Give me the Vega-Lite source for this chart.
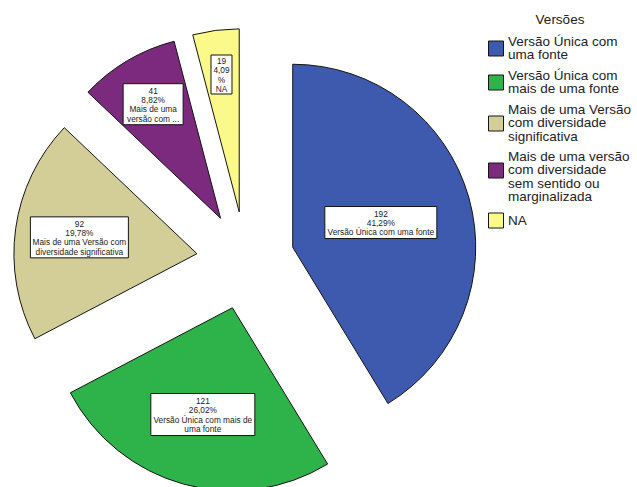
{
  "$schema": "https://vega.github.io/schema/vega-lite/v6.json",
  "width": 637,
  "height": 487,
  "autosize": {"type": "none"},
  "padding": 0,
  "background": "white",
  "config": {"view": {"stroke": null}, "font": "Liberation Sans"},
  "data": {
    "values": [
      {"versao": "Versão Única com uma fonte", "n": 192, "rotulo": "192\n41,29%\nVersão Única com uma fonte"},
      {"versao": "Versão Única com mais de uma fonte", "n": 121, "rotulo": "121\n26,02%\nVersão Única com mais de\numa fonte"},
      {"versao": "Mais de uma Versão com diversidade significativa", "n": 92, "rotulo": "92\n19,78%\nMais de uma Versão com\ndiversidade significativa"},
      {"versao": "Mais de uma versão com diversidade sem sentido ou marginalizada", "n": 41, "rotulo": "41\n8,82%\nMais de uma\nversão com  ..."},
      {"versao": "NA", "n": 19, "rotulo": "19\n4,09\n%\nNA"}
    ]
  },
  "transform": [
    {"window": [{"op": "row_number", "as": "ordem"}]},
    {"window": [{"op": "sum", "field": "n", "as": "acum"}], "sort": [{"field": "ordem"}], "frame": [null, 0]},
    {"joinaggregate": [{"op": "sum", "field": "n", "as": "total"}]},
    {"calculate": "(datum.acum - datum.n) / datum.total", "as": "t0"},
    {"calculate": "datum.acum / datum.total", "as": "t1"},
    {"calculate": "PI * (datum.t0 + datum.t1)", "as": "meio"},
    {"calculate": "0.268 * sin(datum.meio)", "as": "cx"},
    {"calculate": "0.268 * cos(datum.meio)", "as": "cy"},
    {"calculate": "0.785 - 0.69 * (datum.t1 - datum.t0)", "as": "rl"},
    {"calculate": "datum.cx + datum.rl * sin(datum.meio)", "as": "lx"},
    {"calculate": "datum.cy + datum.rl * cos(datum.meio)", "as": "ly"},
    {"calculate": "datum.ly + (length(split(datum.rotulo, '\\n')) - 1) * 0.5 * 0.0508 - 0.008", "as": "ty"}
  ],
  "layer": [
    {
      "mark": {"type": "arc", "radius": 183, "stroke": "#141414", "strokeWidth": 1},
      "encoding": {
        "theta": {"field": "t0", "type": "quantitative", "scale": {"domain": [0, 1]}, "stack": null},
        "theta2": {"field": "t1"},
        "x": {"field": "cx", "type": "quantitative", "scale": {"domain": [-1.3415, 2.1393], "nice": false, "zero": false}, "axis": null},
        "y": {"field": "cy", "type": "quantitative", "scale": {"domain": [-1.2377, 1.4235], "nice": false, "zero": false}, "axis": null},
        "color": {
          "field": "versao",
          "type": "nominal",
          "scale": {
            "domain": ["Versão Única com uma fonte", "Versão Única com mais de uma fonte", "Mais de uma Versão com diversidade significativa", "Mais de uma versão com diversidade sem sentido ou marginalizada", "NA"],
            "range": ["#3D5AAE", "#2EB34B", "#D3CE98", "#7B2A7E", "#FBF98A"]
          },
          "legend": {
            "title": "Versões",
            "orient": "none",
            "legendX": 488,
            "legendY": 13,
            "padding": 0,
            "symbolType": "square",
            "symbolSize": 225,
            "symbolStrokeColor": "#141414",
            "symbolStrokeWidth": 1,
            "symbolOpacity": 1,
            "labelFont": "Liberation Sans",
            "labelFontSize": 13.5,
            "labelColor": "#222222",
            "labelOffset": 4,
            "labelLimit": 300,
            "labelBaseline": "middle",
            "rowPadding": 6,
            "titleFont": "Liberation Sans",
            "titleFontSize": 13.5,
            "titleFontWeight": "normal",
            "titleColor": "#222222",
            "titleAnchor": "middle",
            "titlePadding": 14,
            "labelExpr": "datum.label == 'Versão Única com uma fonte' ? ['Versão Única com', 'uma fonte'] : datum.label == 'Versão Única com mais de uma fonte' ? ['Versão Única com', 'mais de uma fonte'] : datum.label == 'Mais de uma Versão com diversidade significativa' ? ['Mais de uma Versão', 'com diversidade', 'significativa'] : datum.label == 'NA' ? 'NA' : ['Mais de uma versão', 'com diversidade', 'sem sentido ou', 'marginalizada']",
            "encode": {"labels": {"update": {"lineHeight": {"value": 13.3}, "dy": {"signal": "datum.value == 'NA' ? 0 : indexof(datum.value, 'Mais') == 0 ? -13.3 : -6.65"}}}}
          }
        }
      }
    },
    {
      "mark": {"type": "point", "filled": true, "fill": "white", "stroke": "#141414", "strokeWidth": 1, "size": 4, "opacity": 1},
      "encoding": {
        "x": {"field": "lx", "type": "quantitative", "scale": {"domain": [-1.3415, 2.1393], "nice": false, "zero": false}, "axis": null},
        "y": {"field": "ly", "type": "quantitative", "scale": {"domain": [-1.2377, 1.4235], "nice": false, "zero": false}, "axis": null},
        "shape": {
          "field": "ordem",
          "type": "nominal",
          "scale": {
            "domain": [1, 2, 3, 4, 5],
            "range": ["M-56,-16H56V16H-56Z", "M-52,-21H52V21H-52Z", "M-49,-20.5H49V20.5H-49Z", "M-30,-20.5H30V20.5H-30Z", "M-10.5,-19.5H10.5V19.5H-10.5Z"]
          },
          "legend": null
        }
      }
    },
    {
      "mark": {"type": "text", "lineBreak": "\n", "font": "Liberation Sans", "fontSize": 8.3, "lineHeight": 9.3, "baseline": "middle", "align": "center", "color": "#1a1a1a"},
      "encoding": {
        "x": {"field": "lx", "type": "quantitative", "scale": {"domain": [-1.3415, 2.1393], "nice": false, "zero": false}, "axis": null},
        "y": {"field": "ty", "type": "quantitative", "scale": {"domain": [-1.2377, 1.4235], "nice": false, "zero": false}, "axis": null},
        "text": {"field": "rotulo"}
      }
    }
  ]
}
